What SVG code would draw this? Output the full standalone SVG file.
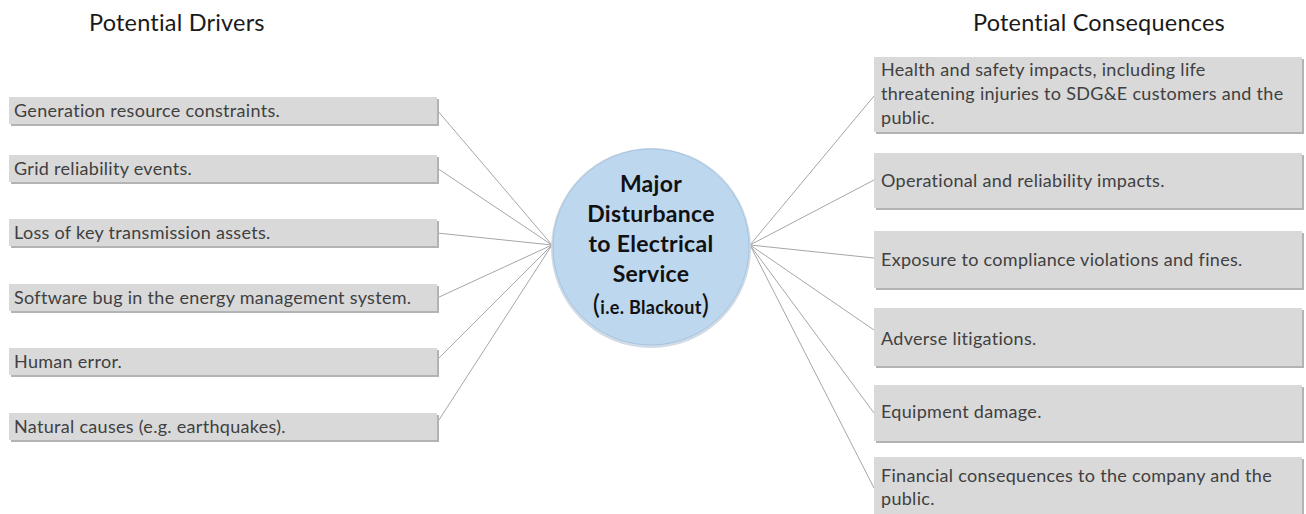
<svg xmlns="http://www.w3.org/2000/svg" width="1306" height="514" viewBox="0 0 1306 514">
<style>
.hdr{font-family:Lato,"Open Sans","Liberation Sans",sans-serif;font-size:23.5px;letter-spacing:0.2px;fill:#1a1a1a}
.bx{fill:#d9d9d9}
.sh{fill:#b3b3b3}
.t{font-family:Lato,"Open Sans","Liberation Sans",sans-serif;font-size:18px;letter-spacing:0.3px;fill:#404040}
.c{font-family:Lato,"Open Sans","Liberation Sans",sans-serif;font-size:23px;letter-spacing:0.3px;font-weight:bold;fill:#111;text-anchor:middle}
.ln{stroke:#a6a6a6;stroke-width:1;fill:none}
</style>
<rect width="1306" height="514" fill="#fff"/>
<text class="hdr" x="89" y="31">Potential Drivers</text>
<text class="hdr" x="973" y="31">Potential Consequences</text>
<g id="connectors">
<path class="ln" d="M437 110L552 245M437 168L552 245M437 233L552 245M437 298L552 245M437 360L552 245M437 423L552 245"/>
<path class="ln" d="M750 245L874 96M750 245L874 180M750 245L874 258M750 245L874 330M750 245L874 413M750 245L874 488"/>
</g>
<g id="d1"><rect class="sh" x="11" y="99" width="428" height="27"/><rect class="bx" x="9" y="97" width="428" height="27"/><text class="t" x="14" y="117">Generation resource constraints.</text></g>
<g id="d2"><rect class="sh" x="11" y="157" width="428" height="27"/><rect class="bx" x="9" y="155" width="428" height="27"/><text class="t" x="14" y="175">Grid reliability events.</text></g>
<g id="d3"><rect class="sh" x="11" y="221" width="428" height="27"/><rect class="bx" x="9" y="219" width="428" height="27"/><text class="t" x="14" y="239">Loss of key transmission assets.</text></g>
<g id="d4"><rect class="sh" x="11" y="286" width="428" height="27"/><rect class="bx" x="9" y="284" width="428" height="27"/><text class="t" x="14" y="304">Software bug in the energy management system.</text></g>
<g id="d5"><rect class="sh" x="11" y="350" width="428" height="27"/><rect class="bx" x="9" y="348" width="428" height="27"/><text class="t" x="14" y="368">Human error.</text></g>
<g id="d6"><rect class="sh" x="11" y="415" width="428" height="27"/><rect class="bx" x="9" y="413" width="428" height="27"/><text class="t" x="14" y="433">Natural causes (e.g. earthquakes).</text></g>
<g id="center">
<circle cx="651" cy="248" r="100" fill="#d0dbe6"/>
<circle cx="651" cy="247" r="98" fill="#bdd7ee" stroke="#a8c4e0" stroke-width="1"/>
<text class="c" x="651" y="192">Major</text>
<text class="c" x="651" y="222">Disturbance</text>
<text class="c" x="651" y="252">to Electrical</text>
<text class="c" x="651" y="282">Service</text>
<text class="c" x="651" y="314"><tspan font-size="27" font-weight="normal">(</tspan><tspan font-size="18">i.e. Blackout</tspan><tspan font-size="27" font-weight="normal">)</tspan></text>
</g>
<g id="c1"><rect class="sh" x="876" y="59" width="428" height="75"/><rect class="bx" x="874" y="57" width="428" height="75"/><text class="t" x="881" y="76">Health and safety impacts, including life</text><text class="t" x="881" y="100">threatening injuries to SDG&amp;E customers and the</text><text class="t" x="881" y="124">public.</text></g>
<g id="c2"><rect class="sh" x="876" y="155" width="428" height="55"/><rect class="bx" x="874" y="153" width="428" height="55"/><text class="t" x="881" y="187">Operational and reliability impacts.</text></g>
<g id="c3"><rect class="sh" x="876" y="233" width="428" height="57"/><rect class="bx" x="874" y="231" width="428" height="57"/><text class="t" x="881" y="266">Exposure to compliance violations and fines.</text></g>
<g id="c4"><rect class="sh" x="876" y="310" width="428" height="58"/><rect class="bx" x="874" y="308" width="428" height="58"/><text class="t" x="881" y="345">Adverse litigations.</text></g>
<g id="c5"><rect class="sh" x="876" y="387" width="428" height="56"/><rect class="bx" x="874" y="385" width="428" height="56"/><text class="t" x="881" y="418">Equipment damage.</text></g>
<g id="c6"><rect class="sh" x="876" y="459" width="428" height="57"/><rect class="bx" x="874" y="457" width="428" height="57"/><text class="t" x="881" y="482">Financial consequences  to the company and the</text><text class="t" x="881" y="505">public.</text></g>
</svg>
